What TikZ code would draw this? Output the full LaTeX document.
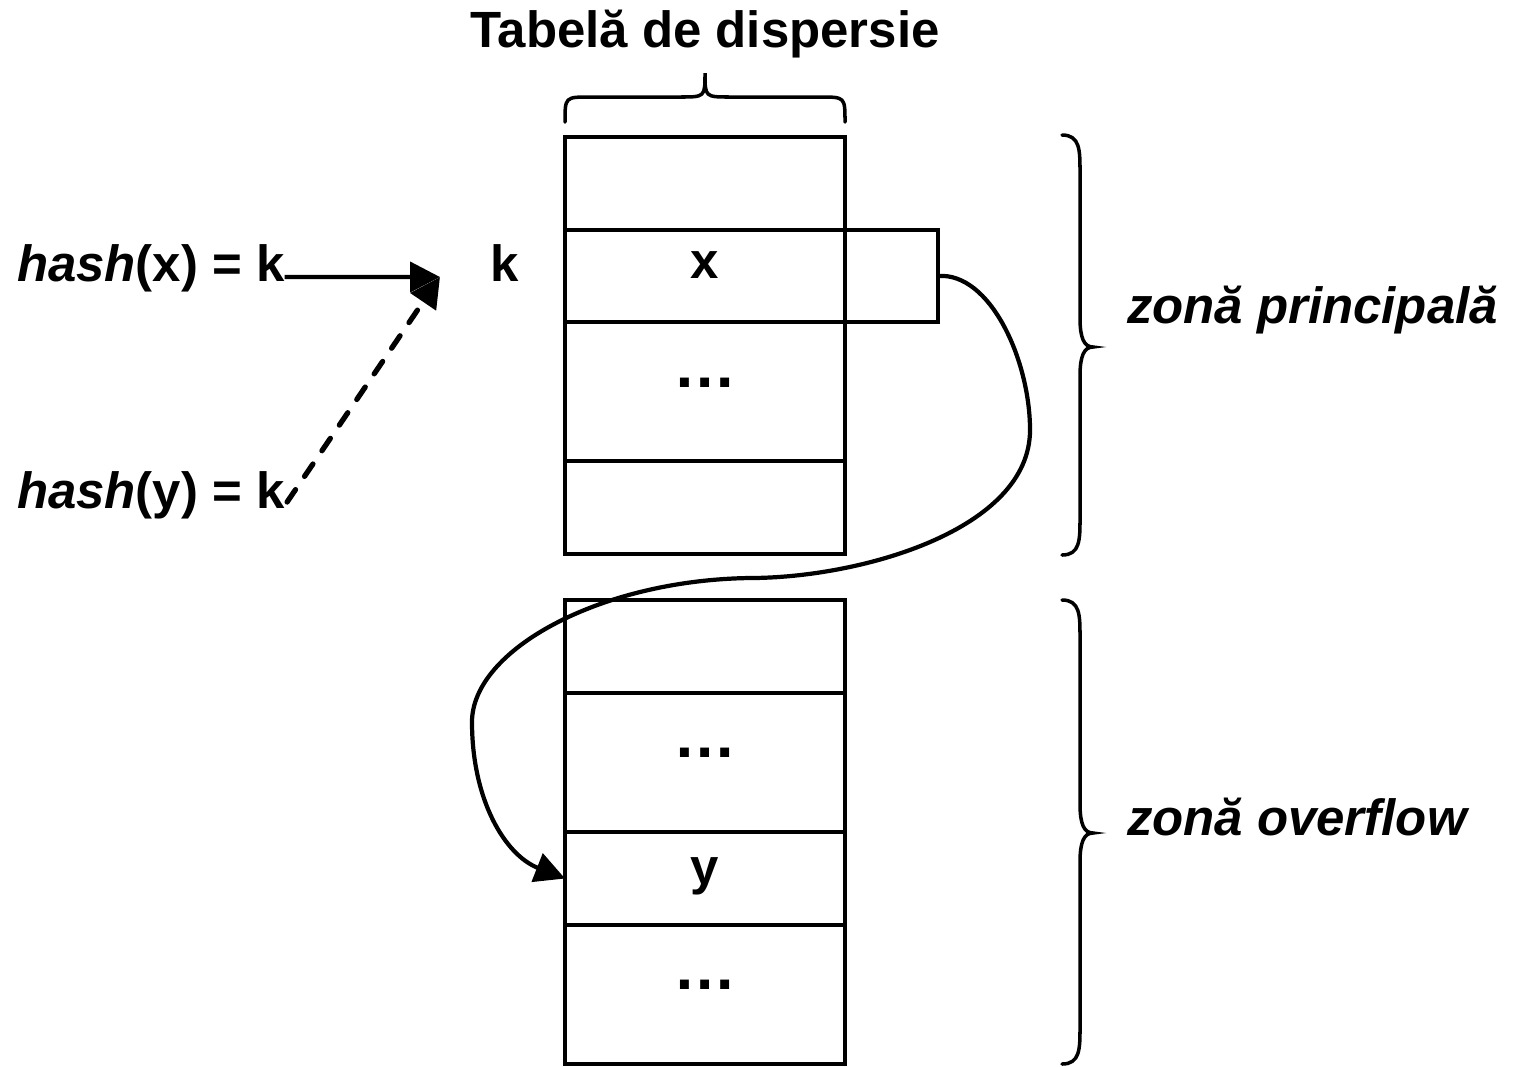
\documentclass[tikz,border=0pt]{standalone}
\usepackage{fontspec}
\setmainfont{Liberation Sans}
\usetikzlibrary{arrows.meta}

\begin{document}
\begin{tikzpicture}[x=0.02cm,y=-0.02cm,
  every node/.style={inner sep=0pt,outer sep=0pt,font=\fontsize{29}{34}\selectfont\bfseries},
  cell/.style={draw,line width=2pt,minimum width=5.6cm},
  dots/.style={font=\fontsize{36}{40}\selectfont\bfseries},
  line/.style={line width=2.4pt},
  tip/.style={-{Triangle[length=0.6cm,width=0.6cm]}},
  brace/.style={line width=2pt,line cap=round}]
\useasboundingbox (0,0) rectangle (1513,1066);

% primary zone of the table
\node[cell,minimum height=1.86cm] (m1) at (705,183.5) {};
\node[cell,minimum height=1.84cm] (m2) at (705,276) {};
\node[cell,minimum height=2.78cm] (m3) at (705,391.5) {};
\node[cell,minimum height=1.86cm] (m4) at (705,507.5) {};
% link field of the occupied slot
\node[draw,line width=2pt,minimum width=1.86cm,minimum height=1.84cm] (ptr) at (891.5,276) {};

% overflow zone of the table
\node[cell,minimum height=1.86cm] (o1) at (705,646.5) {};
\node[cell,minimum height=2.78cm] (o2) at (705,762.5) {};
\node[cell,minimum height=1.86cm] (o3) at (705,878.5) {};
\node[cell,minimum height=2.78cm] (o4) at (705,994.5) {};

% cell contents
\node[anchor=base] (vx) at (705,278) {x};
\node[anchor=base] (vy) at (705,884) {y};
\node[dots] (d1) at (705,383) {…};
\node[dots] (d2) at (705,753) {…};
\node[dots] (d3) at (705,985) {…};
\node[anchor=base] (k) at (505,281) {k};

% titles and labels
\node[anchor=base] (title) at (705,47) {Tabelă de dispersie};
\node[anchor=base west] (hx) at (17,281) {\textit{hash}(x) = k};
\node[anchor=base west] (hy) at (17,508) {\textit{hash}(y) = k};
\node[anchor=base west] (zp) at (1127,323) {\textit{zonă principală}};
\node[anchor=base west] (zo) at (1127,835) {\textit{zonă overflow}};

% both keys hash to slot k
\coordinate (kin) at (440,277);
\draw[line,tip] ([yshift=0.08cm]hx.base east) -- (kin);
\draw[line width=3pt,tip,line cap=round,dash pattern=on 0.3cm off 0.32cm] ([xshift=0.05cm,yshift=0.12cm]hy.base east) -- (kin);

% chain from the primary slot to the overflow record
\draw[line,tip] (ptr.east) .. controls (990,272) and (1030,360) .. (1030,430)
  .. controls (1030,530) and (860,578) .. (750,578)
  .. controls (600,580) and (472,650) .. (472,722)
  .. controls (472,800) and (505,855) .. (o3.west);

% braces
\draw[brace] (565,122) .. controls (565,97) .. (590,97) -- (680,97)
  .. controls (705,97) .. (705,73) .. controls (705,97) .. (730,97)
  -- (820,97) .. controls (845,97) .. (845,122);
\draw[brace] (1062,135) .. controls (1080,135) and (1080,150) .. (1080,172) -- (1080,318)
  .. controls (1080,338) and (1084,347) .. (1093,347)
  .. controls (1084,347) and (1080,356) .. (1080,376) -- (1080,518)
  .. controls (1080,540) and (1080,555) .. (1062,555);
\draw[brace] (1062,600) .. controls (1080,600) and (1080,615) .. (1080,637) -- (1080,804)
  .. controls (1080,824) and (1084,833) .. (1093,833)
  .. controls (1084,833) and (1080,842) .. (1080,862) -- (1080,1027)
  .. controls (1080,1049) and (1080,1064) .. (1062,1064);
\end{tikzpicture}
\end{document}
